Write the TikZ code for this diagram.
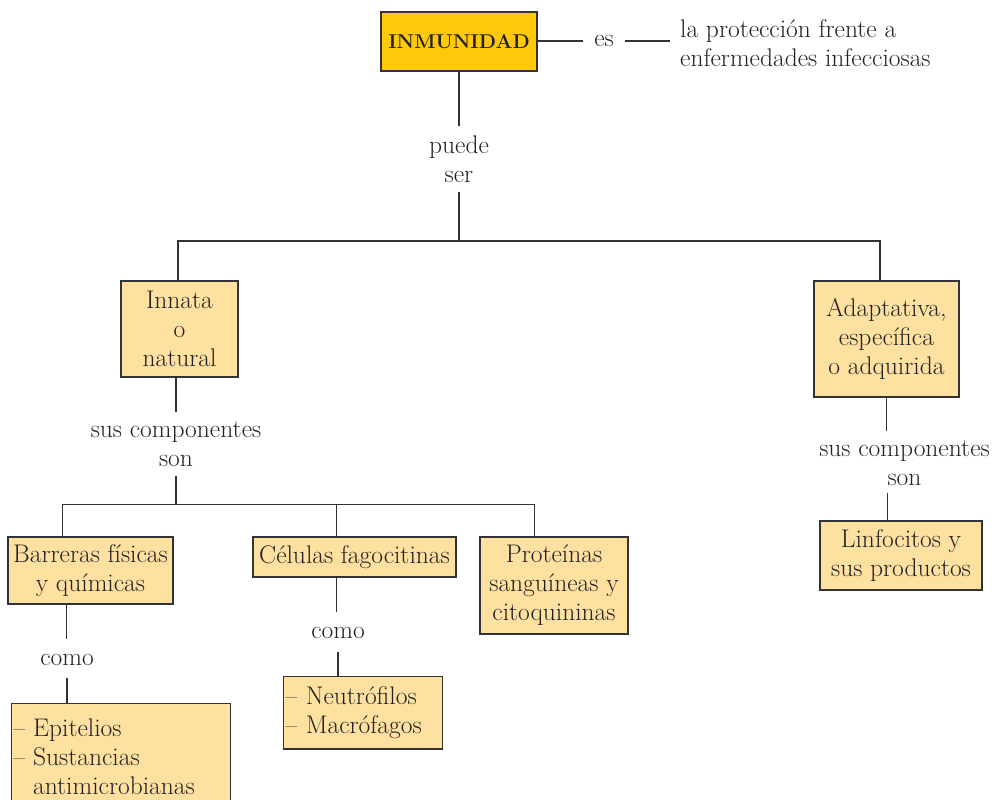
\documentclass[tikz,border=0pt]{standalone}
\usepackage{fontspec}
\definecolor{gold}{HTML}{FFC90A}
\definecolor{lightbox}{HTML}{FEE0A0}
\definecolor{edge}{HTML}{333333}
\definecolor{ink}{HTML}{222222}
\begin{document}
\begin{tikzpicture}[x=1pt,y=-1pt,
  txt/.style={font=\fontsize{25.5}{29}\selectfont, text=ink},
  box/.style={txt, draw=edge, line width=1.4pt, fill=lightbox, inner sep=0pt, align=center},
  lbl/.style={txt, inner xsep=0pt, inner ysep=9pt, align=center},
  conn/.style={draw=edge, line width=1.5pt}]
\useasboundingbox (0,0) rectangle (999,800);

% top
\node[box, fill=gold, minimum width=156, minimum height=59, font=\fontsize{20}{24}\bfseries\selectfont] (inm) at (459,41.5) {INMUNIDAD};
\node[txt, inner xsep=11pt, inner ysep=0pt] (es) at (604,41) {es};
\node[txt, anchor=west, align=left, inner xsep=10pt, inner ysep=0pt] (def) at (670,43) {la protección frente a\\enfermedades infecciosas};
\draw[conn] (inm.east |- es.west) -- (es.west);
\draw[conn] (es.east) -- (def.west |- es.east);

\node[lbl] (puede) at (459,159) {puede\\ser};
\coordinate (j1) at (459,241);
\draw[conn] (inm.south) -- (puede.north);
\draw[conn] (puede.south) -- (j1);

\node[box, minimum width=117, minimum height=96] (inn) at (179.5,329) {Innata\\o\\natural};
\node[box, minimum width=145, minimum height=116] (ada) at (886.5,339) {Adaptativa,\\específica\\o adquirida};
\draw[conn] ([xshift=-1.5pt]inn.north) |- (j1) -| ([xshift=-6.5pt]ada.north);

% innata branch
\node[lbl] (sc1) at (176,444) {sus componentes\\son};
\coordinate (j2) at (176,505);
\draw[conn] (inn.south -| sc1.north) -- (sc1.north);
\draw[conn] (sc1.south) -- (j2);

\node[box, minimum width=165, minimum height=67] (bar) at (90.5,570.5) {Barreras físicas\\y químicas};
\node[box, minimum width=203, minimum height=40] (cel) at (354.5,557) {Células fagocitinas};
\node[box, minimum width=148, minimum height=97] (pro) at (554,585.5) {Proteínas\\sanguíneas y\\citoquininas};
\draw[conn] ([xshift=55pt]bar.north west) -- ++(0,-32) -| ([xshift=55pt]pro.north west);
\draw[conn] ([xshift=84pt]cel.north west) -- ++(0,-32);

\node[lbl, inner ysep=0pt] (como1) at (67,660) {como};
\draw[conn] ([xshift=59pt]bar.south west) -- ++(0,34);
\node[box, anchor=north west, inner xsep=2pt, inner ysep=15pt] (epi) at (11,703) {\parbox[b][100pt][t]{215pt}{\raggedright – Epitelios\\– Sustancias\\\phantom{– }antimicrobianas}};
\draw[conn] ([xshift=56pt]epi.north west) -- ++(0,-25);

\node[lbl, inner ysep=0pt] (como2) at (338,633) {como};
\draw[conn] ([xshift=84pt]cel.south west) -- ++(0,34);
\node[box, anchor=north west, align=left, text width=155pt, minimum height=70, inner xsep=2pt, inner ysep=10pt] (neu) at (283,676) {– Neutrófilos\\– Macrófagos};
\draw[conn] ([xshift=55pt]neu.north west) -- ++(0,-24);

% adaptativa branch
\node[lbl, inner ysep=0pt] (sc2) at (904.5,463) {sus componentes\\son};
\draw[conn] (ada.south) -- ++(0,33);
\node[box, minimum width=162, minimum height=69] (lin) at (901,555.5) {Linfocitos y\\sus productos};
\draw[conn] ([xshift=68pt]lin.north west) -- ++(0,-27);
\end{tikzpicture}
\end{document}
